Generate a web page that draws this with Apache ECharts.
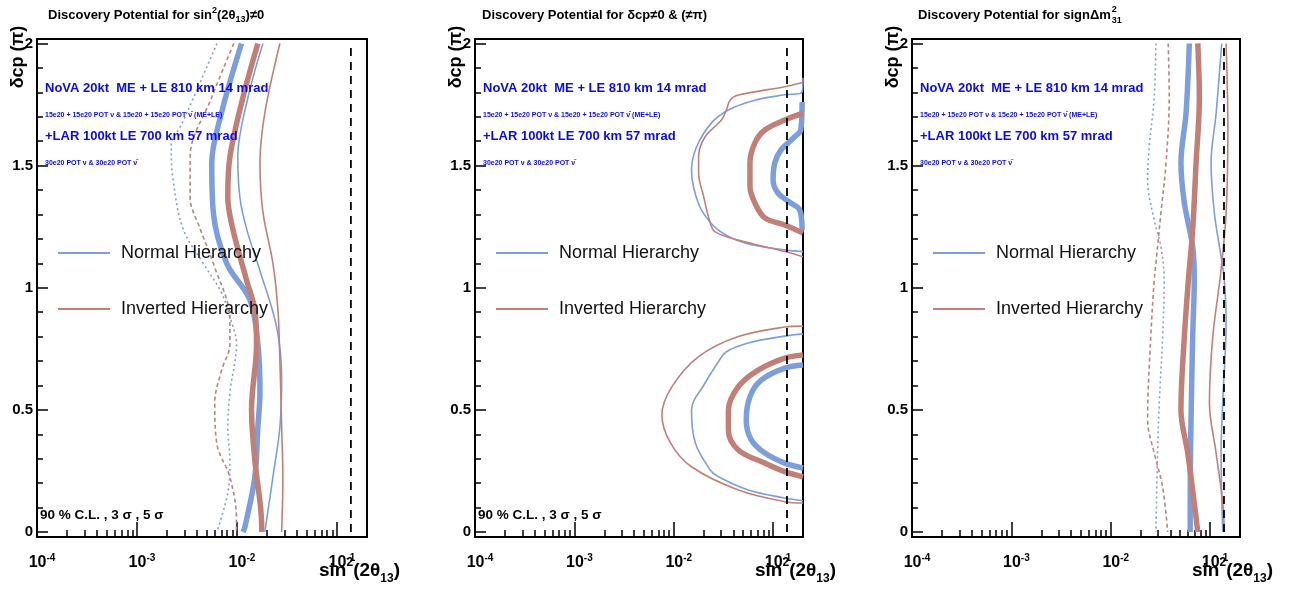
<!DOCTYPE html>
<html><head><meta charset="utf-8">
<script src="https://cdn.jsdelivr.net/npm/echarts@6/dist/echarts.min.js"></script>
<style>html,body{margin:0;padding:0;background:#fff}#c{width:1298px;height:590px}</style>
</head><body><div id="c"></div>
<script>
// ---------- axis ticks ----------
const yMajorTicks = [0, 0.5, 1, 1.5, 2];
const yMinorTicks = [0.1,0.2,0.3,0.4,0.6,0.7,0.8,0.9,1.1,1.2,1.3,1.4,1.6,1.7,1.8,1.9];
const xMajorTicks = [1e-4, 1e-3, 1e-2, 1e-1];
const xMinorTicks = [2e-4,3e-4,4e-4,5e-4,6e-4,7e-4,8e-4,9e-4,2e-3,3e-3,4e-3,5e-3,6e-3,7e-3,8e-3,9e-3,2e-2,3e-2,4e-2,5e-2,6e-2,7e-2,8e-2,9e-2,0.2];
const choozLimit = 0.138;

// ---------- panel 1 : sin^2(2theta13) != 0  ([sin2, deltaCP/pi]) ----------
const p1NH90 = [[0.0063,2.0],[0.0037,1.78],[0.0028,1.67],[0.0022,1.58],[0.0023,1.44],[0.0029,1.24],[0.0046,1.10],[0.0070,0.98],[0.0085,0.88],[0.0099,0.77],[0.0085,0.57],[0.0081,0.43],[0.0085,0.29],[0.0081,0.16],[0.0063,0.0]];
const p1IH90 = [[0.0093,2.0],[0.0056,1.78],[0.0034,1.535],[0.0034,1.37],[0.0043,1.24],[0.0058,1.10],[0.0085,0.87],[0.0085,0.77],[0.0070,0.66],[0.0060,0.53],[0.0063,0.36],[0.0085,0.225],[0.0099,0.05],[0.0099,0.0]];
const p1NH3 = [[0.0111,2.0],[0.0070,1.715],[0.0056,1.51],[0.0058,1.31],[0.0079,1.10],[0.0135,0.95],[0.0162,0.77],[0.0170,0.57],[0.0162,0.43],[0.0151,0.225],[0.0120,0.02],[0.0115,0.0]];
const p1IH3 = [[0.0162,2.0],[0.0115,1.78],[0.0085,1.535],[0.0081,1.37],[0.0091,1.24],[0.0125,1.03],[0.0151,0.91],[0.0157,0.77],[0.0140,0.50],[0.0151,0.295],[0.0177,0.02],[0.0177,0.0]];
const p1NH5 = [[0.0182,2.0],[0.0129,1.78],[0.0102,1.535],[0.0107,1.37],[0.0125,1.24],[0.0170,1.07],[0.0249,0.84],[0.0280,0.635],[0.0269,0.43],[0.0229,0.225],[0.0190,0.0]];
const p1IH5 = [[0.0269,2.0],[0.0190,1.715],[0.0170,1.51],[0.0182,1.31],[0.0229,1.10],[0.0257,0.91],[0.0269,0.70],[0.0280,0.43],[0.0288,0.225],[0.0280,0.0]];

// ---------- panel 2 : deltaCP != 0, pi ----------
const p2NHthinUp = [[0.2,1.86],[0.195,1.80],[0.131,1.79],[0.0656,1.768],[0.0355,1.728],[0.024,1.675],[0.017,1.577],[0.0151,1.482],[0.0158,1.414],[0.019,1.319],[0.0282,1.236],[0.0521,1.183],[0.131,1.155],[0.2,1.148]];
const p2IHthinUp = [[0.2,1.84],[0.131,1.823],[0.0447,1.789],[0.0369,1.768],[0.0339,1.728],[0.0302,1.687],[0.0207,1.618],[0.0178,1.537],[0.0178,1.47],[0.020,1.373],[0.0233,1.265],[0.0261,1.229],[0.0447,1.195],[0.131,1.148],[0.2,1.127]];
const p2NHthickUp = [[0.196,1.76],[0.19,1.646],[0.165,1.618],[0.12,1.564],[0.104,1.511],[0.1,1.441],[0.112,1.388],[0.151,1.347],[0.185,1.319],[0.196,1.236]];
const p2IHthickUp = [[0.2,1.715],[0.131,1.687],[0.0826,1.646],[0.0656,1.593],[0.0585,1.511],[0.0585,1.414],[0.0656,1.347],[0.0826,1.286],[0.131,1.257],[0.2,1.224]];
const p2NHthinLo = [[0.2,0.811],[0.131,0.802],[0.0562,0.774],[0.0339,0.738],[0.0282,0.697],[0.0207,0.610],[0.0151,0.499],[0.0165,0.364],[0.0233,0.254],[0.0282,0.226],[0.0562,0.172],[0.131,0.139],[0.2,0.128]];
const p2IHthinLo = [[0.2,0.843],[0.131,0.839],[0.0447,0.800],[0.0178,0.718],[0.0096,0.595],[0.0076,0.479],[0.0093,0.364],[0.0151,0.267],[0.0447,0.172],[0.131,0.124],[0.2,0.119]];
const p2NHthickLo = [[0.2,0.684],[0.131,0.671],[0.0759,0.622],[0.0585,0.554],[0.0537,0.459],[0.0603,0.377],[0.0826,0.323],[0.131,0.282],[0.2,0.262]];
const p2IHthickLo = [[0.2,0.725],[0.131,0.712],[0.0708,0.663],[0.0447,0.595],[0.0355,0.499],[0.0355,0.418],[0.0447,0.336],[0.0826,0.282],[0.131,0.247],[0.2,0.226]];

// ---------- panel 3 : sign of dm^2_31 ----------
const p3NH90 = [[0.0285,2.0],[0.0274,1.78],[0.0244,1.577],[0.0235,1.441],[0.0274,1.277],[0.032,1.168],[0.0345,1.032],[0.0333,0.80],[0.0308,0.528],[0.0296,0.323],[0.0285,0.0]];
const p3IH90 = [[0.0379,2.0],[0.0388,1.78],[0.036,1.51],[0.032,1.306],[0.0285,1.10],[0.0274,1.032],[0.0253,0.80],[0.0235,0.459],[0.0274,0.323],[0.0333,0.184],[0.0374,0.0]];
const p3NH3 = [[0.0618,2.0],[0.0573,1.715],[0.0509,1.511],[0.0551,1.347],[0.0668,1.168],[0.0693,1.032],[0.0668,0.80],[0.0643,0.459],[0.0633,0.254],[0.0630,0.0]];
const p3IH3 = [[0.0752,2.0],[0.078,1.78],[0.0723,1.511],[0.0668,1.236],[0.061,1.05],[0.0551,0.80],[0.0509,0.499],[0.0596,0.323],[0.0693,0.119],[0.0752,0.0]];
const p3NH5 = [[0.131,2.0],[0.115,1.715],[0.1023,1.511],[0.1104,1.306],[0.129,1.128],[0.139,1.032],[0.145,0.868],[0.134,0.528],[0.129,0.323],[0.134,0.0]];
const p3IH5 = [[0.145,2.0],[0.151,1.646],[0.145,1.306],[0.127,1.05],[0.1064,0.80],[0.0985,0.528],[0.115,0.323],[0.134,0.119],[0.139,0.0]];

// ---------- texts ----------
const titles = ['Discovery Potential for sin{sup|2}(2θ{sub|13})≠0', 'Discovery Potential for δcp≠0 & (≠π)', 'Discovery Potential for signΔm'];
const line1 = 'NoVA 20kt  ME + LE 810 km 14 mrad';
const line2 = '15e20 + 15e20 POT ν & 15e20 + 15e20 POT ν̄ (ME+LE)';
const line3 = '+LAR 100kt LE 700 km 57 mrad';
const line4 = '30e20 POT ν & 30e20 POT ν̄';
const clText = '90 % C.L. , 3 σ , 5 σ';
const legendNames = ['Normal Hierarchy', 'Inverted Hierarchy'];

const FONT = "'Liberation Sans', Arial, Helvetica, sans-serif";
const BLUE = '#7e9edb', BROWN = '#c08078', TXTBLUE = '#0a0af0';

const grids = [
  {left: 37, top: 39, width: 330, height: 498},
  {left: 475, top: 39, width: 328, height: 498},
  {left: 912, top: 39, width: 328, height: 498}
];
const Y_MIN = -0.0205, Y_MAX = 2.0184;

const xAxes = [], yAxes = [];
grids.forEach((g, i) => {
  xAxes.push({
    type: 'log', logBase: 10, gridIndex: i, min: 1e-4, max: 0.2, position: 'bottom',
    axisLine: {show: true, onZero: false, lineStyle: {color: '#000', width: 2}},
    axisTick: {show: true, inside: true, length: 15, customValues: xMajorTicks, lineStyle: {color: '#000', width: 1.5}},
    axisLabel: {
      show: true, customValues: xMajorTicks, margin: 16,
      formatter: v => '{sp|}{b|10}{s|' + Math.round(Math.log10(v)) + '}',
      rich: {
        sp: {width: 10, lineHeight: 20},
        b: {fontSize: 16, fontWeight: 'bold', fontFamily: FONT, color: '#000', lineHeight: 20},
        s: {fontSize: 10, fontWeight: 'bold', fontFamily: FONT, color: '#000', lineHeight: 20, verticalAlign: 'top'}
      }
    },
    splitLine: {show: false}
  });
  xAxes.push({
    type: 'log', logBase: 10, gridIndex: i, min: 1e-4, max: 0.2, position: 'bottom', offset: 0,
    axisLine: {show: false, onZero: false},
    axisTick: {show: true, inside: true, length: 7, customValues: xMinorTicks, lineStyle: {color: '#000', width: 1.5}},
    axisLabel: {show: false}, splitLine: {show: false}
  });
  yAxes.push({
    type: 'value', gridIndex: i, min: Y_MIN, max: Y_MAX, position: 'left',
    axisLine: {show: true, onZero: false, lineStyle: {color: '#000', width: 2}},
    axisTick: {show: true, inside: true, length: 11, customValues: yMajorTicks, lineStyle: {color: '#000', width: 1.5}},
    axisLabel: {show: true, customValues: yMajorTicks, margin: 4, fontSize: 15, fontWeight: 'bold', fontFamily: FONT, color: '#000', formatter: v => String(v)},
    splitLine: {show: false}
  });
  yAxes.push({
    type: 'value', gridIndex: i, min: Y_MIN, max: Y_MAX, position: 'left', offset: 0,
    axisLine: {show: false, onZero: false},
    axisTick: {show: true, inside: true, length: 6, customValues: yMinorTicks, lineStyle: {color: '#000', width: 1.5}},
    axisLabel: {show: false}, splitLine: {show: false}
  });
});

const STY = {
  dotB: {width: 1.6, type: [2, 3]},
  dashR: {width: 1.6, type: [4, 3]},
  thick: {width: 5.5, type: 'solid'},
  thin: {width: 1.6, type: 'solid'}
};
function mk(name, data, p, color, st) {
  return {name, type: 'line', xAxisIndex: p * 2, yAxisIndex: p * 2, data, symbol: 'none', showSymbol: false,
    smooth: 0.35, silent: true, animation: false, lineStyle: Object.assign({color, cap: 'butt'}, st)};
}
const series = [
  mk('NH 90%', p1NH90, 0, BLUE, STY.dotB), mk('IH 90%', p1IH90, 0, BROWN, STY.dashR),
  mk('NH 3σ', p1NH3, 0, BLUE, STY.thick), mk('IH 3σ', p1IH3, 0, BROWN, STY.thick),
  mk('NH 5σ', p1NH5, 0, BLUE, STY.thin), mk('IH 5σ', p1IH5, 0, BROWN, STY.thin),
  mk('NH thin up', p2NHthinUp, 1, BLUE, STY.thin), mk('IH thin up', p2IHthinUp, 1, BROWN, STY.thin),
  mk('NH thick up', p2NHthickUp, 1, BLUE, STY.thick), mk('IH thick up', p2IHthickUp, 1, BROWN, STY.thick),
  mk('NH thin lo', p2NHthinLo, 1, BLUE, STY.thin), mk('IH thin lo', p2IHthinLo, 1, BROWN, STY.thin),
  mk('NH thick lo', p2NHthickLo, 1, BLUE, STY.thick), mk('IH thick lo', p2IHthickLo, 1, BROWN, STY.thick),
  mk('NH 90% s', p3NH90, 2, BLUE, STY.dotB), mk('IH 90% s', p3IH90, 2, BROWN, STY.dashR),
  mk('NH 3σ s', p3NH3, 2, BLUE, STY.thick), mk('IH 3σ s', p3IH3, 2, BROWN, STY.thick),
  mk('NH 5σ s', p3NH5, 2, BLUE, STY.thin), mk('IH 5σ s', p3IH5, 2, BROWN, STY.thin)
];
[0, 1, 2].forEach(p => {
  series.push({type: 'line', xAxisIndex: p * 2, yAxisIndex: p * 2, data: [[choozLimit, 0], [choozLimit, 2]],
    symbol: 'none', silent: true, animation: false, z: 5,
    lineStyle: {color: '#000', width: 1.8, type: [8, 6]}});
});

// ---------- graphic texts ----------
const graphic = [];
function T(x, y, text, font, fill, extra) {
  graphic.push({type: 'text', x, y, silent: true, z: 100,
    style: Object.assign({text, font, fill: fill || '#000', verticalAlign: 'middle', align: 'left'}, extra || {})});
}
const supsub = {
  sup: {fontSize: 9, fontWeight: 'bold', fontFamily: FONT, fill: '#000', verticalAlign: 'top'},
  sub: {fontSize: 9, fontWeight: 'bold', fontFamily: FONT, fill: '#000', verticalAlign: 'bottom'}
};
const titleX = [48, 482, 918];
titles.forEach((t, i) => T(titleX[i], 15, t, 'bold 13px ' + FONT, '#000', {rich: supsub, lineHeight: 18}));
const cv = document.createElement('canvas').getContext('2d');
cv.font = 'bold 13px ' + FONT;
const w3 = cv.measureText(titles[2]).width;
T(918 + w3 + 1, 10, '2', 'bold 9px ' + FONT);
T(918 + w3 + 1, 20.5, '31', 'bold 9px ' + FONT);

grids.forEach((g, i) => {
  const L = g.left, R = g.left + g.width;
  T(L + 8, 88, line1, 'bold 13px ' + FONT, TXTBLUE);
  T(L + 8, 115, line2, 'bold 7px ' + FONT, TXTBLUE);
  T(L + 8, 136, line3, 'bold 13px ' + FONT, TXTBLUE);
  T(L + 8, 163, line4, 'bold 7px ' + FONT, TXTBLUE);
  graphic.push({type: 'line', silent: true, z: 100, shape: {x1: L + 21, y1: 253, x2: L + 73, y2: 253}, style: {stroke: BLUE, lineWidth: 2}});
  graphic.push({type: 'line', silent: true, z: 100, shape: {x1: L + 21, y1: 309, x2: L + 73, y2: 309}, style: {stroke: BROWN, lineWidth: 2}});
  T(L + 84, 253, legendNames[0], '18px ' + FONT, '#111');
  T(L + 84, 309, legendNames[1], '18px ' + FONT, '#111');
  if (i < 2) T(L + 3, 515, clText, 'bold 13.5px ' + FONT, '#000');
  T(R - 48, 571, 'sin{sup|2}(2θ{sub|13})', 'bold 19px ' + FONT, '#000', {
    lineHeight: 28,
    rich: {
      sup: {fontSize: 12, fontWeight: 'bold', fontFamily: FONT, fill: '#000', verticalAlign: 'top'},
      sub: {fontSize: 12, fontWeight: 'bold', fontFamily: FONT, fill: '#000', verticalAlign: 'bottom'}
    }
  });
  graphic.push({type: 'text', x: L - 19, y: 57, rotation: Math.PI / 2, silent: true, z: 100,
    style: {text: 'δcp (π)', font: 'bold 18px ' + FONT, fill: '#000', align: 'center', verticalAlign: 'middle'}});
});

const chart = echarts.init(document.getElementById('c'), null, {renderer: 'canvas'});
chart.setOption({
  animation: false,
  backgroundColor: '#fff',
  grid: grids.map(g => Object.assign({show: true, borderColor: '#000', borderWidth: 2, backgroundColor: 'transparent', containLabel: false}, g)),
  xAxis: xAxes,
  yAxis: yAxes,
  series,
  graphic
});
</script></body></html>
